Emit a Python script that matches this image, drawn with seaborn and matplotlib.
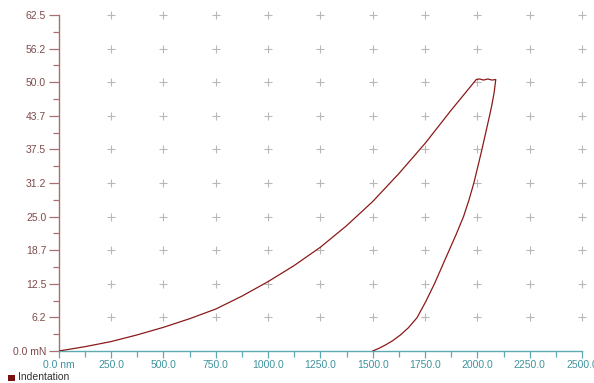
import matplotlib
matplotlib.use("Agg")
import matplotlib.pyplot as plt
from matplotlib.patches import Rectangle
import numpy as np
import pandas as pd
import seaborn as sns

# Indentation depth (nm) and load (mN) along the loading branch
load_depth = [0, 125, 250, 375, 500, 625, 750, 875, 1000, 1125, 1250, 1375,
              1500, 1625, 1750, 1875, 1995]
load_force = [0.0, 0.8, 1.75, 3.0, 4.4, 6.0, 7.8, 10.2, 12.9, 15.9, 19.3, 23.3,
              27.8, 33.0, 38.6, 44.8, 50.5]
# Hold segment at peak load
hold_depth = [2010, 2030, 2050, 2070, 2088]
hold_force = [50.6, 50.4, 50.6, 50.4, 50.5]
# Unloading branch
unload_depth = [2080, 2068, 2058, 2040, 2022, 2003, 1983, 1960, 1934, 1900, 1865,
                1830, 1795, 1755, 1712, 1670, 1633, 1595, 1560, 1530, 1500]
unload_force = [48.0, 45.5, 43.7, 40.6, 37.5, 34.4, 31.2, 28.1, 25.0, 21.8, 18.7,
                15.6, 12.5, 9.3, 6.2, 4.3, 3.0, 1.9, 1.1, 0.5, 0.0]

x_ticks = [0, 250, 500, 750, 1000, 1250, 1500, 1750, 2000, 2250, 2500]
x_labels = ["0.0 nm", "250.0", "500.0", "750.0", "1000.0", "1250.0", "1500.0",
            "1750.0", "2000.0", "2250.0", "2500.0"]
y_ticks = [0, 6.25, 12.5, 18.75, 25, 31.25, 37.5, 43.75, 50, 56.25, 62.5]
y_labels = ["0.0 mN", "6.2", "12.5", "18.7", "25.0", "31.2", "37.5", "43.7",
            "50.0", "56.2", "62.5"]

curve = pd.DataFrame({
    "depth": load_depth + hold_depth + unload_depth,
    "force": load_force + hold_force + unload_force,
})

sns.set_theme(style="white")
plt.rcParams["font.family"] = ["Liberation Sans", "DejaVu Sans"]

line_col = "#8b1a1a"
y_axis_col = "#a87070"
y_text_col = "#7d4a4a"
x_axis_col = "#5faab2"
x_text_col = "#3f939d"

fig = plt.figure(figsize=(5.94, 3.83), dpi=100)
ax = fig.add_axes([58.7 / 594, 1 - 351 / 383, (582 - 58.7) / 594, (351 - 15) / 383])

# Grid drawn as small crosses at tick intersections
gx, gy = np.meshgrid(x_ticks[1:], y_ticks[1:])
ax.scatter(gx.ravel(), gy.ravel(), marker="+", s=40, color="#b8b8b8",
           linewidths=0.8, zorder=1, clip_on=False)

sns.lineplot(data=curve, x="depth", y="force", sort=False, estimator=None,
             color=line_col, linewidth=0.9, ax=ax, zorder=3)

ax.set_xlim(0, 2500)
ax.set_ylim(0, 62.5)
ax.set_xlabel("")
ax.set_ylabel("")

for side in ["top", "right"]:
    ax.spines[side].set_visible(False)
ax.spines["left"].set_color(y_axis_col)
ax.spines["bottom"].set_color(x_axis_col)
ax.spines["left"].set_linewidth(1.0)
ax.spines["bottom"].set_linewidth(1.0)

ax.set_xticks(x_ticks)
ax.set_xticklabels(x_labels)
ax.set_yticks(y_ticks)
ax.set_yticklabels(y_labels)
ax.set_xticks([t + 125 for t in x_ticks[:-1]], minor=True)
ax.set_yticks([t + 3.125 for t in y_ticks[:-1]], minor=True)

ax.tick_params(axis="y", which="major", direction="out", length=7, width=0.9,
               color=y_axis_col, labelcolor=y_text_col, labelsize=7.5, pad=2, left=True)
ax.tick_params(axis="y", which="minor", direction="out", length=4, width=0.9,
               color=y_axis_col, left=True)
ax.tick_params(axis="x", which="major", direction="out", length=5, width=0.9,
               color=x_axis_col, labelcolor=x_text_col, labelsize=7.5, pad=1.5, bottom=True)
ax.tick_params(axis="x", which="minor", direction="out", length=4, width=0.9,
               color=x_axis_col, bottom=True)
for lbl in ax.get_xticklabels():
    lbl.set_clip_on(False)

# Series key at the bottom left
fig.patches.append(Rectangle((8 / 594, 1 - 381 / 383), 6.5 / 594, 6.5 / 383,
                             transform=fig.transFigure, facecolor="#7a1010",
                             edgecolor="none"))
fig.text(18 / 594, 1 - 377.5 / 383, "Indentation", fontsize=7.5, color="#333333",
         va="center", ha="left")

fig.savefig("out.png", dpi=100)
